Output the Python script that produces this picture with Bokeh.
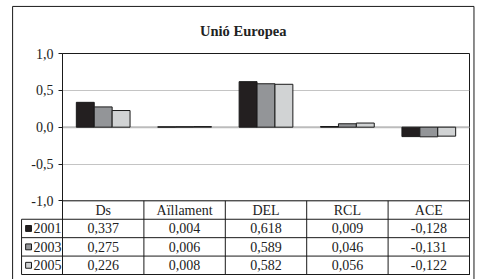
from bokeh.plotting import figure
from bokeh.models import FixedTicker, CustomJSTickFormatter, Range1d
from bokeh.core.properties import value
from bokeh.embed import file_html
from bokeh.resources import INLINE

title = "Unió Europea"
categories = ["Ds", "Aïllament", "DEL", "RCL", "ACE"]
years = ["2001", "2003", "2005"]
v2001 = [0.337, 0.004, 0.618, 0.009, -0.128]
v2003 = [0.275, 0.006, 0.589, 0.046, -0.131]
v2005 = [0.226, 0.008, 0.582, 0.056, -0.122]
y_ticks = [-1.0, -0.5, 0.0, 0.5, 1.0]

series = [v2001, v2003, v2005]
colors = ["#231f20", "#939598", "#d1d3d4"]
FONT = "'Liberation Serif', serif"
DARK = "#1a1a1a"

p = figure(width=477, height=279, output_backend="svg", toolbar_location=None,
           x_range=Range1d(0, 5), y_range=Range1d(-2.0, 1.0),
           x_axis_location=None, min_border_left=62, min_border_right=8,
           min_border_top=53, min_border_bottom=5)
p.background_fill_color = "white"
p.border_fill_color = "white"
p.outline_line_color = DARK
p.outline_line_width = 1
p.xgrid.visible = False
p.ygrid.ticker = FixedTicker(ticks=y_ticks)
p.ygrid.grid_line_color = "#c4c4c4"
p.ygrid.grid_line_width = 1

ax = p.yaxis[0]
ax.ticker = FixedTicker(ticks=y_ticks)
ax.formatter = CustomJSTickFormatter(code="return tick.toFixed(1).replace('.', ',');")
ax.axis_line_color = DARK
ax.major_tick_line_color = DARK
ax.major_tick_out = 4
ax.major_tick_in = 0
ax.minor_tick_line_color = None
ax.major_label_text_font = FONT
ax.major_label_text_font_size = "14px"
ax.major_label_text_color = "#222222"
ax.major_label_standoff = 5

# zero line
p.segment(x0=[0], y0=[0], x1=[5], y1=[0], line_color="#bcbcbc", line_width=2)

# bars
bw = 0.22
offsets = [-bw, 0.0, bw]
for vals, col, off in zip(series, colors, offsets):
    xs = [i + 0.5 + off for i in range(len(categories))]
    p.vbar(x=xs, width=bw, bottom=0, top=vals, fill_color=col,
           line_color=DARK, line_width=1)

# data table
x_leg = -0.503
row_edges = [-1.0, -1.25, -1.5, -1.75, -2.0]
hx0, hx1, hy0, hy1 = [], [], [], []
for k, yy in enumerate(row_edges):
    hx0.append(0 if k == 0 else x_leg)
    hx1.append(5)
    hy0.append(yy)
    hy1.append(yy)
p.segment(x0=hx0, y0=hy0, x1=hx1, y1=hy1, line_color=DARK, line_width=1,
          level="overlay")
vx = [0, 1, 2, 3, 4, 5]
p.segment(x0=vx, y0=[-1.0] * 6, x1=vx, y1=[-2.0] * 6, line_color=DARK,
          line_width=1, level="overlay")
p.segment(x0=[x_leg], y0=[-1.25], x1=[x_leg], y1=[-2.0], line_color=DARK,
          line_width=1, level="overlay")

# header
p.text(x=[i + 0.5 for i in range(len(categories))], y=[-1.125] * len(categories),
       text=categories, text_font=value(FONT), text_font_size="14px",
       text_align="center", text_baseline="middle", text_color="#222222")

# values
row_y = [-1.375, -1.625, -1.875]
for vals, ry in zip(series, row_y):
    labels = [f"{v:.3f}".replace(".", ",") for v in vals]
    p.text(x=[i + 0.5 for i in range(len(categories))], y=[ry] * len(vals),
           text=labels, text_font=value(FONT), text_font_size="14px",
           text_align="center", text_baseline="middle", text_color="#222222")

# legend keys in the table (drawn as short thick segments plus outline)
kx = -0.417
hw, hh = 0.036, 0.040
p.segment(x0=[kx - hw] * 3, y0=row_y, x1=[kx + hw] * 3, y1=row_y,
          line_color=colors, line_width=6, line_cap="butt", level="overlay")
ox0, oy0, ox1, oy1 = [], [], [], []
for ry in row_y:
    corners = [(kx - hw, ry - hh), (kx + hw, ry - hh), (kx + hw, ry + hh), (kx - hw, ry + hh)]
    for a in range(4):
        b = (a + 1) % 4
        ox0.append(corners[a][0]); oy0.append(corners[a][1])
        ox1.append(corners[b][0]); oy1.append(corners[b][1])
p.segment(x0=ox0, y0=oy0, x1=ox1, y1=oy1, line_color=DARK, line_width=1,
          level="overlay")
p.text(x=[-0.355] * 3, y=row_y, text=years, text_font=value(FONT),
       text_font_size="14px", text_align="left", text_baseline="middle",
       text_color="#222222", level="overlay")

# title
p.text(x=[2.22], y=[1.31], text=[title], text_font=value(FONT),
       text_font_size="14.5px", text_font_style="bold", text_align="center",
       text_baseline="middle", text_color="#222222", level="overlay")

# outer chart border
bx_l, bx_r, by_t, by_b = -0.613, 5.055, 1.639, -2.2
p.multi_line(xs=[[bx_l, bx_l, bx_r, bx_r]], ys=[[by_b, by_t, by_t, by_b]],
             line_color=DARK, line_width=1, level="overlay")

open("out.html", "w").write(file_html(p, INLINE))
